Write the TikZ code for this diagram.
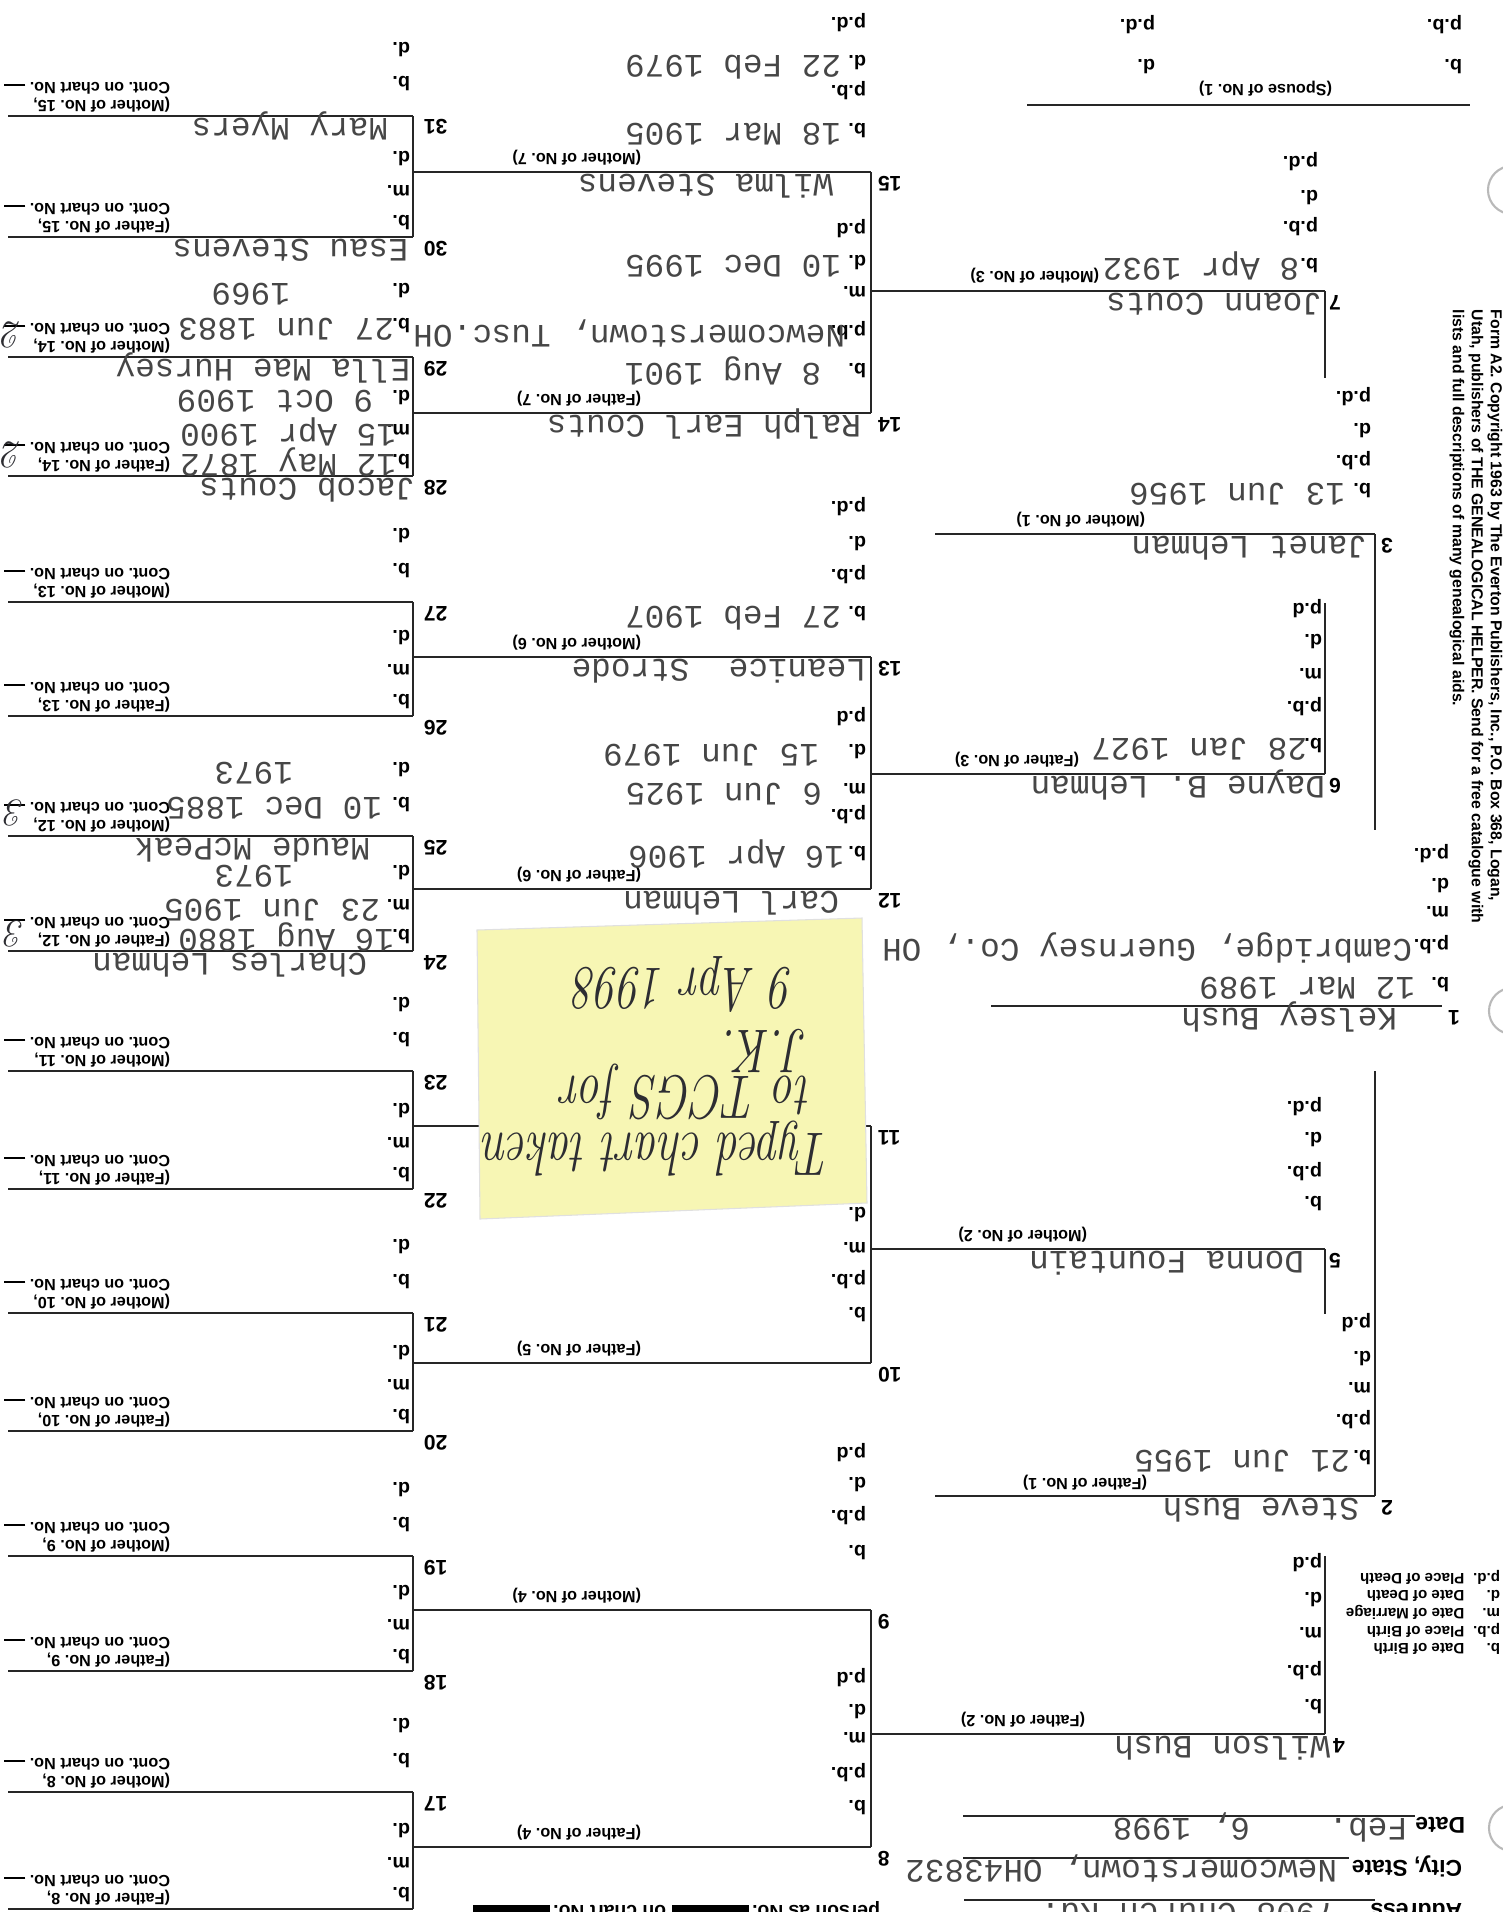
\documentclass[tikz,border=0pt]{standalone}
\usepackage{fontspec}
\usepackage{tikz}
\newfontfamily\formfont{Liberation Sans}
\newfontfamily\typefont{Liberation Mono}
\definecolor{notey}{RGB}{247,246,180}
\definecolor{inkc}{RGB}{45,45,50}
\definecolor{typec}{RGB}{70,70,70}
\newcommand{\typed}{\typefont\fontsize{9.3}{11}\selectfont}
\newcommand{\formlab}{\formfont\bfseries\fontsize{5.6}{7}\selectfont}
\newcommand{\formno}{\formfont\bfseries\fontsize{6}{7}\selectfont}
\newcommand{\formtiny}{\formfont\bfseries\fontsize{4.6}{5.1}\selectfont}
\newcommand{\formhead}{\formfont\bfseries\fontsize{6.5}{8}\selectfont}
\newcommand{\formleg}{\formfont\bfseries\fontsize{4.3}{5}\selectfont}
\newcommand{\formcopy}{\formfont\bfseries\fontsize{4.5}{5.4}\selectfont}
\newcommand{\inkhand}{\fontsize{13}{15}\selectfont\itshape}
\newcommand{\contblank}{\rule[0.4pt]{6pt}{0.5pt}}
\tikzset{
  turned/.style = {rotate=180, inner sep=0pt, outer sep=0pt},
  nm/.style     = {turned, anchor=base west, font=\typed, text=typec},
  tv/.style     = {turned, anchor=base west, font=\typed, text=typec},
  lab/.style    = {turned, anchor=base west, font=\formlab},
  pno/.style    = {turned, anchor=base east, font=\formno},
  rel/.style    = {turned, anchor=base west, font=\formtiny},
  cont/.style   = {turned, anchor=north west, align=left, font=\formtiny},
  head/.style   = {turned, anchor=base west, font=\formhead},
  hand/.style   = {turned, anchor=base west, yscale=1.35, font=\inkhand, text=inkc},
  handno/.style = {turned, font=\itshape\fontsize{11}{11}\selectfont, text=inkc},
  ln/.style     = {line width=0.6pt, black!85},
  br/.style     = {line width=0.8pt, black!85},
}
% printed field labels of one person: x, number, list label/y
\newcommand{\pfields}[3]{%
  \foreach \fl/\fy [count=\fk] in {#3}{\node[lab] (f#2-\fk) at (#1,\fy-7) {\fl};}}

\begin{document}
\frenchspacing
\begin{tikzpicture}[x=0.01cm, y=-0.01cm]
  \fill[white] (0,0) rectangle (1503,1912);
  \useasboundingbox (0,0) rectangle (1503,1912);
  \clip (0,0) rectangle (1503,1912);

  % fifth generation (16-31)
  \foreach \pn/\ly in {31/116,30/237,29/357,28/476,27/602,26/716,25/836,24/951,
                       23/1071,22/1189,21/1313,20/1431,19/1556,18/1671,17/1792,16/1909}{
    \draw[ln] (8,\ly) -- (413,\ly);
    \node[pno] (no\pn) at (424,\ly+4) {\pn};
  }
  \foreach \pn/\ly in {30/237,28/476,26/716,24/951,22/1189,20/1431,18/1671,16/1909}{
    \pgfmathtruncatemacro{\chn}{\pn/2}
    \node[lab] (b\pn) at (410,\ly-22) {b.};
    \node[lab] (m\pn) at (410,\ly-52) {m.};
    \node[lab] (d\pn) at (410,\ly-86) {d.};
    \node[cont] (c\pn) at (170,\ly-4) {(Father of No. \chn,\\Cont. on chart No. \contblank};
  }
  \foreach \pn/\ly in {31/116,29/357,27/602,25/836,23/1071,21/1313,19/1556,17/1792}{
    \pgfmathtruncatemacro{\chn}{(\pn-1)/2}
    \node[lab] (b\pn) at (410,\ly-39) {b.};
    \node[lab] (d\pn) at (410,\ly-74) {d.};
    \node[cont] (c\pn) at (170,\ly-4) {(Mother of No. \chn,\\Cont. on chart No. \contblank};
  }
  \foreach \ya/\yb in {116/237,357/476,602/716,836/951,1071/1189,1313/1431,1556/1671,1792/1909}
    \draw[br] (413,\ya) -- (413,\yb);

  % fourth generation (8-15)
  \foreach \pn/\ly/\rolew/\chn in {15/172/Mother/7,14/413/Father/7,13/657/Mother/6,12/889/Father/6,
                                  11/1126/Mother/5,10/1363/Father/5,9/1610/Mother/4,8/1847/Father/4}{
    \draw[ln] (413,\ly) -- (871,\ly);
    \node[pno] (no\pn) at (878,\ly+4) {\pn};
    \node[rel] (r\pn) at (641,\ly-19) {(\rolew\ of No. \chn)};
  }
  \foreach \ya/\yb in {172/413,657/889,1126/1363,1610/1847}
    \draw[br] (871,\ya) -- (871,\yb);
  \pfields{866}{15}{b./130,p.b./92,d./62,p.d./25}
  \pfields{866}{14}{b./370,p.b./332,m./293,d./262,p.d/230}
  \pfields{866}{13}{b./613,p.b./576,d./543,p.d./508}
  \pfields{866}{12}{b./853,p.b./816,m./790,d./751,p.d/718}
  \pfields{866}{10}{b./1314,p.b./1281,m./1249,d./1214}
  \pfields{866}{9}{b./1552,p.b./1517,d./1484,p.d/1454}
  \pfields{866}{8}{b./1807,p.b./1774,m./1739,d./1711,p.d/1679}

  % third generation (4-7)
  \foreach \pn/\ly in {7/291,6/774,5/1249}{
    \draw[ln] (871,\ly) -- (1325,\ly);
    \node[pno] (no\pn) at (1329,\ly+4) {\pn};
  }
  \draw[ln] (871,1734) -- (1325,1734);
  \node[pno] (no4) at (1333,1738) {4};
  \foreach \ya/\yb in {291/378,603/774,1249/1314,1556/1734}
    \draw[br] (1325,\ya) -- (1325,\yb);
  \node[rel] (r7) at (1099,271) {(Mother of No. 3)};
  \node[rel] (r6) at (1079,755) {(Father of No. 3)};
  \node[rel] (r5) at (1087,1230) {(Mother of No. 2)};
  \node[rel] (r4) at (1085,1715) {(Father of No. 2)};
  \pfields{1318}{7}{b./265,p.b./228,d./197,p.d./163}
  \pfields{1322}{6}{b./745,p.b./708,m./675,d./641,p.d/610}
  \pfields{1322}{5}{b./1203,p.b./1173,d./1139,p.d./1108}
  \pfields{1322}{4}{b./1706,p.b./1672,m./1634,d./1599,p.d/1564}

  % second generation (2-3)
  \foreach \pn/\ly in {3/534,2/1496}{
    \draw[ln] (935,\ly) -- (1375,\ly);
    \node[pno] (no\pn) at (1381,\ly+4) {\pn};
  }
  \draw[br] (1375,534) -- (1375,830);
  \draw[br] (1375,1071) -- (1375,1496);
  \node[rel] (r3) at (1145,515) {(Mother of No. 1)};
  \node[rel] (r2) at (1147,1478) {(Father of No. 1)};
  \pfields{1371}{3}{b./490,p.b./462,d./430,p.d./398}
  \pfields{1371}{2}{b./1457,p.b./1421,m./1389,d./1358,p.d/1324}

  % no. 1 and spouse
  \draw[ln] (991,1006) -- (1442,1006);
  \node[pno] (no1) at (1448,1010) {1};
  \pfields{1449}{1}{b./984,p.b./946,m./913,d./885,p.d./855}
  \draw[br] (1027,105) -- (1470,105);
  \node[rel] (rsp) at (1332,84) {(Spouse of No. 1)};
  \node[lab] (spb) at (1462,60) {b.};
  \node[lab] (sppb) at (1462,20) {p.b.};
  \node[lab] (spd) at (1155,60) {d.};
  \node[lab] (sppd) at (1155,20) {p.d.};

  % typed names
  \node[nm] (p1) at (1397,1008) {Kelsey Bush};
  \node[nm] (p2) at (1359,1498) {Steve Bush};
  \node[nm] (p3) at (1367,536) {Janet Lehman};
  \node[nm] (p4) at (1330,1736) {Wilson Bush};
  \node[nm] (p5) at (1304,1251) {Donna Fountain};
  \node[nm] (p6) at (1325,776) {Dayne B. Lehman};
  \node[nm] (p7) at (1322,293) {Joann Couts};
  \node[nm] (p12) at (839,891) {Carl Lehman};
  \node[nm] (p13) at (866,659) {Leanice~ Strode};
  \node[nm] (p14) at (861,415) {Ralph Earl Couts};
  \node[nm] (p15) at (833,174) {Wilma Stevens};
  \node[nm] (p24) at (367,953) {Charles Lehman};
  \node[nm] (p25) at (370,838) {Maude McPeak};
  \node[nm] (p28) at (415,478) {Jacob Couts};
  \node[nm] (p29) at (410,359) {Ella Mae Hursey};
  \node[nm] (p30) at (408,239) {Esau Stevens};
  \node[nm] (p31) at (388,118) {Mary Myers};

  % typed dates and places
  \node[tv] (v1b) at (1415,977) {12 Mar 1989};
  \node[tv] (v1pb) at (1412,939) {Cambridge, Guernsey Co., OH};
  \node[tv] (v2b) at (1350,1450) {21 Jun 1955};
  \node[tv] (v3b) at (1345,483) {13 Jun 1956};
  \node[tv] (v6b) at (1307,738) {28 Jan 1927};
  \node[tv] (v7b) at (1299,258) {8 Apr 1932};
  \node[tv] (v15b) at (841,123) {18 Mar 1905};
  \node[tv] (v15d) at (841,55) {22 Feb 1979};
  \node[tv] (v14b) at (821,363) {8 Aug 1901};
  \node[tv] (v14pb) at (845,325) {Newcomerstown, Tusc.OH};
  \node[tv] (v14d) at (841,255) {10 Dec 1995};
  \node[tv] (v13b) at (841,606) {27 Feb 1907};
  \node[tv] (v12b) at (844,846) {16 Apr 1906};
  \node[tv] (v12m) at (822,783) {6 Jun 1925};
  \node[tv] (v12d) at (819,744) {15 Jun 1979};
  \node[tv] (v29b) at (394,318) {27 Jun 1883};
  \node[tv] (v29d) at (290,283) {1969};
  \node[tv] (v28b) at (396,454) {12 May 1872};
  \node[tv] (v28m) at (396,424) {15 Apr 1900};
  \node[tv] (v28d) at (373,390) {9 Oct 1909};
  \node[tv] (v25b) at (382,797) {10 Dec 1885};
  \node[tv] (v25d) at (293,762) {1973};
  \node[tv] (v24b) at (394,929) {16 Aug 1880};
  \node[tv] (v24m) at (380,899) {23 Jun 1905};
  \node[tv] (v24d) at (293,865) {1973};

  % pen marks on the continuation labels
  \node[handno] (hw29) at (13,335) {2};
  \node[handno] (hw28) at (13,455) {2};
  \node[handno] (hw25) at (16,813) {3};
  \node[handno] (hw24) at (16,934) {3};

  % header block
  \draw[ln] (963,1816) -- (1415,1816);
  \node[head] (hdate) at (1465,1817) {Date};
  \node[tv] (vdate) at (1407,1818) {Feb.~~~~6, 1998};
  \draw[ln] (963,1858) -- (1349,1858);
  \node[head] (hcity) at (1462,1860) {City, State};
  \node[tv] (vcity) at (1337,1860) {Newcomerstown, OH43832};
  \draw[ln] (964,1900) -- (1375,1900);
  \node[head] (haddr) at (1462,1903) {Address};
  \node[tv] (vaddr) at (1335,1903) {7908 Church Rd.};
  \node[turned, anchor=base west, font=\formfont\bfseries\fontsize{5.5}{6}\selectfont] (chartref) at (880,1905)
       {person as No.\,\rule{22pt}{2.2pt} on chart No.\,\rule{22pt}{2.2pt}};

  % legend and publisher line
  \node[turned, anchor=north west, font=\formleg] (legend) at (1500,1656)
       {\begin{tabular}{@{}l@{\hspace{2.5pt}}l@{}}b.&Date of Birth\\p.b.&Place of Birth\\
        m.&Date of Marriage\\d.&Date of Death\\p.d.&Place of Death\end{tabular}};
  \node[rotate=-90, anchor=north west, inner sep=0pt, align=left, font=\formcopy] (copyr) at (1503,309)
       {Form A2. Copyright 1963 by The Everton Publishers, Inc., P.O. Box 368, Logan,\\
        Utah, publishers of THE GENEALOGICAL HELPER. Send for a free catalogue with\\
        lists and full descriptions of many genealogical aids.};

  % punch holes
  \draw[gray!55, line width=0.6pt] (1512,190) circle[radius=0.24cm];
  \draw[gray!55, line width=0.6pt] (1512,1011) circle[radius=0.23cm];
  \draw[gray!55, line width=0.6pt] (1512,1828) circle[radius=0.23cm];

  % sticky note
  \fill[notey, draw=black!12, line width=0.3pt] (477,930) -- (862,918) -- (867,1203) -- (480,1219) -- cycle;
  \node[hand] (n1) at (831,1133) {Typed chart taken};
  \node[hand] (n2) at (811,1076) {to TCGS for};
  \node[hand] (n3) at (808,1030) {J.K.};
  \node[hand] (n4) at (794,968) {9 Apr 1998};
\end{tikzpicture}
\end{document}
